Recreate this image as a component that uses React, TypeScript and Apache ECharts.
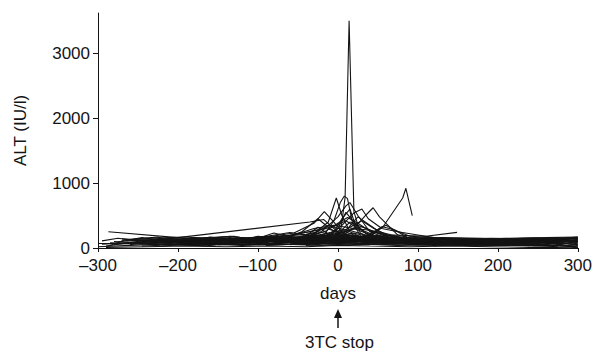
import React, { useEffect, useRef } from "react";
import * as echarts from "echarts";

// x: days relative to 3TC stop, y: ALT (IU/l)
const xTicks = [-300, -200, -100, 0, 100, 200, 300];
const yTicks = [0, 1000, 2000, 3000];

// prominent patient trajectories
const pSpike = [[-35, 70], [-8, 120], [4, 310], [9, 780], [14, 3500], [20, 560], [28, 230], [45, 110], [90, 60], [200, 45]];
const pLate = [[-150, 50], [-40, 60], [10, 90], [35, 140], [56, 320], [81, 770], [85, 920], [93, 500]];
const pPeak44 = [[-90, 40], [-20, 80], [5, 180], [22, 330], [36, 520], [44, 620], [52, 480], [75, 200], [110, 90], [200, 60], [300, 130]];
const pLong = [[-287, 250], [-200, 160], [-35, 400], [-18, 440], [-5, 300], [10, 150], [40, 80]];
const pE = [[-150, 60], [-55, 230], [-30, 380], [-17, 560], [-5, 400], [8, 200], [30, 90], [100, 60]];
const pF = [[-60, 60], [-20, 150], [-5, 420], [3, 700], [8, 800], [12, 760], [18, 400], [30, 150], [60, 70]];
const pG = [[-100, 50], [-40, 120], [-12, 400], [-2, 770], [5, 500], [15, 250], [40, 100]];
const pH = [[-30, 80], [0, 300], [10, 550], [20, 400], [35, 220], [70, 90], [120, 50]];
const pI = [[-200, 60], [-80, 100], [-45, 250], [-25, 450], [-10, 300], [5, 180], [25, 90]];
const pJ = [[-20, 70], [5, 200], [25, 480], [40, 350], [60, 180], [100, 80]];
const pK = [[-60, 50], [20, 150], [70, 200], [110, 180], [149, 240]];
const pL = [[-10, 100], [15, 400], [45, 250], [100, 100], [160, 60]];
const pM = [[-40, 40], [20, 100], [45, 250], [60, 350], [75, 250], [95, 100], [150, 60]];
const pN = [[-120, 80], [-60, 180], [-30, 300], [-5, 350], [20, 300], [50, 160], [90, 80]];
const pO = [[-10, 150], [5, 450], [15, 600], [22, 350], [40, 180], [70, 120]];
const pP = [[-50, 100], [-25, 320], [-10, 200], [10, 250], [30, 330], [55, 200], [80, 100]];

// mid-level trajectories around the stop day
const c9 = [[-205, 130], [-170, 140], [-135, 180], [-100, 130], [-60, 200], [-35, 250], [-15, 300], [0, 250], [20, 180], [45, 120], [80, 90]];
const c10 = [[-190, 110], [-160, 100], [-125, 150], [-90, 130], [-60, 100], [-30, 220], [-12, 350], [0, 300], [15, 270], [35, 200], [60, 140], [100, 120]];
const c11 = [[-170, 50], [-130, 70], [-90, 160], [-55, 200], [-25, 280], [-5, 330], [10, 420], [25, 300], [45, 200], [70, 130], [110, 90]];
const c12 = [[-130, 150], [-95, 170], [-60, 240], [-35, 190], [-15, 260], [0, 380], [12, 470], [25, 380], [40, 260], [60, 200], [85, 120]];
const c13 = [[-80, 120], [-50, 160], [-25, 200], [-5, 180], [15, 320], [30, 420], [45, 300], [65, 180], [95, 150], [130, 100]];
const c14 = [[-60, 140], [-30, 230], [-10, 180], [5, 230], [18, 300], [35, 280], [55, 240], [80, 160], [120, 120], [170, 80]];
const c15 = [[-45, 90], [-20, 260], [0, 480], [10, 650], [15, 700], [25, 500], [40, 250], [65, 130], [100, 70]];
const c16 = [[-40, 60], [-10, 200], [5, 350], [20, 540], [30, 600], [38, 450], [55, 300], [75, 250], [100, 200], [130, 140]];
const c17 = [[20, 80], [40, 200], [55, 330], [70, 280], [90, 180], [120, 160], [160, 130], [230, 110], [300, 90]];

// low-level trajectories forming the dense band
const b1 = [[-295, 60], [-250, 90], [-200, 110], [-150, 80], [-100, 120], [-50, 90], [0, 130], [50, 100], [100, 80], [150, 70], [200, 60], [250, 70], [300, 160]];
const b2 = [[-290, 30], [-240, 120], [-210, 80], [-160, 140], [-120, 100], [-80, 150], [-30, 110], [10, 160], [60, 120], [120, 90], [180, 100], [240, 110], [300, 150]];
const b3 = [[-280, 100], [-230, 70], [-190, 130], [-140, 110], [-90, 60], [-40, 140], [0, 90], [40, 130], [90, 110], [140, 80], [200, 120], [260, 130], [300, 40]];
const b4 = [[-270, 140], [-220, 100], [-180, 60], [-130, 130], [-70, 100], [-20, 170], [20, 120], [80, 90], [130, 110], [190, 80], [250, 100], [300, 10]];
const b5 = [[-260, 50], [-210, 150], [-170, 90], [-110, 70], [-60, 160], [-10, 120], [30, 150], [70, 130], [110, 60], [170, 110], [230, 90], [280, 120], [300, 80]];
const b6 = [[-285, 80], [-245, 60], [-195, 100], [-145, 150], [-95, 120], [-45, 80], [5, 110], [55, 150], [105, 120], [155, 100], [205, 80], [255, 60], [300, 120]];
const b7 = [[-250, 120], [-200, 140], [-150, 100], [-100, 90], [-50, 130], [0, 170], [50, 110], [100, 140], [150, 120], [210, 110], [270, 80]];
const b8 = [[-230, 40], [-180, 120], [-120, 160], [-75, 80], [-25, 130], [15, 100], [65, 80], [115, 130], [160, 140], [220, 130], [280, 150]];
const b9 = [[-210, 90], [-160, 50], [-110, 130], [-65, 110], [-15, 180], [25, 130], [75, 110], [125, 90], [175, 70], [235, 50], [290, 30]];
const b10 = [[-190, 70], [-140, 60], [-85, 140], [-35, 160], [8, 140], [45, 90], [95, 130], [145, 110], [195, 140], [245, 120], [300, 100]];
const b11 = [[-300, 20], [-260, 40], [-220, 60], [-175, 40], [-125, 60], [-75, 50], [-25, 70], [20, 60], [70, 50], [120, 40], [170, 50], [220, 40], [270, 30], [300, 20]];
const b12 = [[-290, 10], [-240, 20], [-190, 30], [-140, 20], [-90, 30], [-40, 20], [0, 40], [40, 30], [90, 20], [140, 30], [190, 20], [240, 10], [300, 5]];
const b13 = [[-280, 60], [-230, 80], [-180, 50], [-130, 90], [-80, 70], [-30, 100], [10, 80], [50, 60], [100, 100], [150, 50], [200, 90], [250, 40]];
const b14 = [[-265, 110], [-215, 130], [-165, 110], [-115, 140], [-70, 130], [-20, 110], [15, 200], [40, 160], [85, 150], [135, 140], [185, 120], [240, 140], [300, 140]];
const b15 = [[-240, 150], [-190, 170], [-150, 130], [-100, 160], [-55, 140], [-5, 150], [35, 180], [80, 140], [130, 160], [180, 150], [230, 130], [275, 110]];
const b16 = [[-220, 30], [-170, 70], [-120, 40], [-70, 60], [-20, 40], [25, 70], [75, 40], [125, 60], [175, 30], [225, 50], [275, 20]];
const b17 = [[-200, 100], [-155, 120], [-105, 90], [-60, 110], [-15, 140], [20, 110], [60, 160], [110, 140], [160, 120], [210, 150], [260, 160], [300, 170]];
const b18 = [[-180, 140], [-135, 100], [-95, 140], [-45, 100], [0, 140], [40, 100], [85, 120], [140, 150], [190, 130], [250, 150]];
const b19 = [[-160, 60], [-120, 90], [-80, 110], [-40, 80], [-5, 100], [30, 90], [70, 100], [120, 70], [165, 90], [220, 70]];
const b20 = [[-140, 120], [-100, 80], [-60, 130], [-20, 90], [10, 120], [45, 140], [90, 60], [150, 90], [200, 100], [250, 90], [300, 60]];
const b21 = [[-120, 90], [-85, 170], [-50, 110], [-20, 200], [0, 150], [30, 110], [60, 90], [100, 120], [145, 130]];
const b22 = [[-100, 140], [-70, 180], [-40, 210], [-25, 250], [-8, 200], [12, 180], [35, 120], [65, 150], [100, 130]];
const b23 = [[-80, 60], [-50, 100], [-30, 170], [-10, 240], [5, 270], [20, 200], [40, 140], [70, 100], [110, 70], [150, 90]];
const b24 = [[-150, 100], [-100, 150], [-80, 230], [-60, 170], [-30, 130], [0, 110], [40, 150], [80, 110]];
const b25 = [[-295, 110], [-275, 150], [-250, 110], [-230, 90], [-200, 120], [-170, 100]];
const b26 = [[-285, 40], [-265, 130], [-240, 140], [-215, 110], [-185, 150], [-160, 120], [-130, 130]];
const b27 = [[100, 60], [150, 90], [200, 110], [250, 120], [300, 170]];
const b28 = [[120, 30], [180, 70], [240, 100], [300, 120]];
const b29 = [[150, 50], [220, 60], [260, 100], [300, 0]];
const c1 = [[-275, 90], [-245, 160], [-220, 120], [-190, 90], [-160, 170], [-125, 120], [-90, 180], [-55, 120], [-25, 190], [0, 120], [25, 180], [60, 110], [100, 150], [140, 100]];
const c2 = [[-300, 70], [-270, 70], [-235, 100], [-205, 160], [-175, 130], [-140, 170], [-105, 110], [-65, 190], [-35, 130], [-5, 230], [15, 160], [50, 190], [95, 100], [150, 130], [210, 100], [270, 130], [300, 110]];
const c3 = [[-260, 130], [-225, 170], [-195, 60], [-165, 160], [-130, 100], [-100, 180], [-70, 150], [-40, 180], [-10, 160], [20, 230], [50, 130], [90, 170], [130, 120], [180, 90], [230, 110], [290, 140]];
const c4 = [[-250, 70], [-215, 90], [-180, 160], [-150, 150], [-115, 110], [-80, 170], [-50, 150], [-15, 110], [10, 200], [35, 140], [75, 170], [120, 110], [170, 130], [220, 110], [280, 90]];
const c5 = [[-245, 30], [-205, 50], [-165, 30], [-125, 100], [-85, 70], [-45, 110], [-10, 60], [30, 100], [70, 60], [110, 100], [150, 40], [195, 60], [245, 30], [300, 50]];
const c6 = [[-235, 160], [-200, 120], [-160, 160], [-130, 180], [-95, 100], [-65, 140], [-30, 190], [0, 200], [30, 170], [65, 130], [110, 160], [160, 100]];
const c7 = [[-225, 110], [-190, 80], [-155, 140], [-120, 120], [-90, 90], [-55, 170], [-20, 150], [15, 130], [55, 170], [100, 110], [150, 150], [200, 130], [260, 140]];
const c8 = [[-215, 50], [-180, 90], [-140, 80], [-110, 50], [-75, 110], [-40, 60], [-8, 80], [25, 50], [60, 80], [100, 50], [140, 70], [190, 40], [250, 60], [300, 30]];
const d1 = [[140, 120], [190, 150], [240, 140], [300, 160]];
const d2 = [[160, 80], [210, 120], [260, 150], [300, 140]];
const d3 = [[130, 140], [180, 110], [230, 150], [270, 160], [300, 60]];
const d4 = [[180, 60], [230, 80], [280, 70], [300, 100]];

const traces = [
  pSpike, pLate, pPeak44, pLong, pE, pF, pG, pH, pI, pJ, pK, pL, pM, pN, pO, pP,
  c9, c10, c11, c12, c13, c14, c15, c16, c17,
  b1, b2, b3, b4, b5, b6, b7, b8, b9, b10, b11, b12, b13, b14, b15,
  b16, b17, b18, b19, b20, b21, b22, b23, b24, b25, b26, b27, b28, b29,
  c1, c2, c3, c4, c5, c6, c7, c8, d1, d2, d3, d4,
];

const FONT = "'Liberation Sans', Arial, Helvetica, sans-serif";
const INK = "#141414";

export default function App() {
  const ref = useRef<HTMLDivElement>(null);
  useEffect(() => {
    if (!ref.current) return;
    const chart = echarts.init(ref.current, undefined, { renderer: "svg" });
    chart.setOption({
      animation: false,
      backgroundColor: "#ffffff",
      grid: { left: 98, right: 17, top: 13, bottom: 108 },
      xAxis: {
        type: "value",
        min: -300,
        max: 300,
        interval: 100,
        splitLine: { show: false },
        axisLine: { show: true, onZero: false, lineStyle: { color: INK, width: 1 } },
        axisTick: { show: true, length: 4, lineStyle: { color: INK } },
        axisLabel: {
          margin: 9,
          color: INK,
          fontSize: 17,
          fontFamily: FONT,
          formatter: (v: number) => (v < 0 ? "\u2013" + Math.abs(v) : String(v)),
        },
      },
      yAxis: {
        type: "value",
        min: 0,
        max: 3620,
        name: "ALT (IU/l)",
        nameLocation: "middle",
        nameRotate: 90,
        nameGap: 69,
        nameTextStyle: { color: INK, fontSize: 17, fontFamily: FONT },
        splitLine: { show: false },
        axisLine: { show: true, onZero: false, lineStyle: { color: INK, width: 1 } },
        axisTick: { show: true, length: 5, customValues: yTicks, lineStyle: { color: INK } },
        axisLabel: {
          margin: 8,
          color: INK,
          fontSize: 17,
          fontFamily: FONT,
          customValues: yTicks,
          formatter: (v: number) => String(v),
        },
      },
      series: traces.map((d, i) => ({
        name: "p" + i,
        type: "line",
        data: d,
        showSymbol: false,
        symbol: "none",
        silent: true,
        lineStyle: { color: INK, width: 1.1 },
      })),
      graphic: [
        { type: "text", left: 338 - 18, top: 285, style: { text: "days", fill: INK, font: `17px ${FONT}` } },
        { type: "line", shape: { x1: 338, y1: 328, x2: 338, y2: 314 }, style: { stroke: INK, lineWidth: 1.5 } },
        { type: "polygon", shape: { points: [[334, 318], [342, 318], [338, 309]] }, style: { fill: INK } },
        { type: "text", left: 338 - 33, top: 334, style: { text: "3TC stop", fill: INK, font: `17px ${FONT}` } },
      ],
    });
    return () => chart.dispose();
  }, []);
  return (
    <div
      ref={ref}
      style={{ position: "fixed", left: 0, top: 0, width: 595, height: 356, background: "#fff" }}
    />
  );
}
